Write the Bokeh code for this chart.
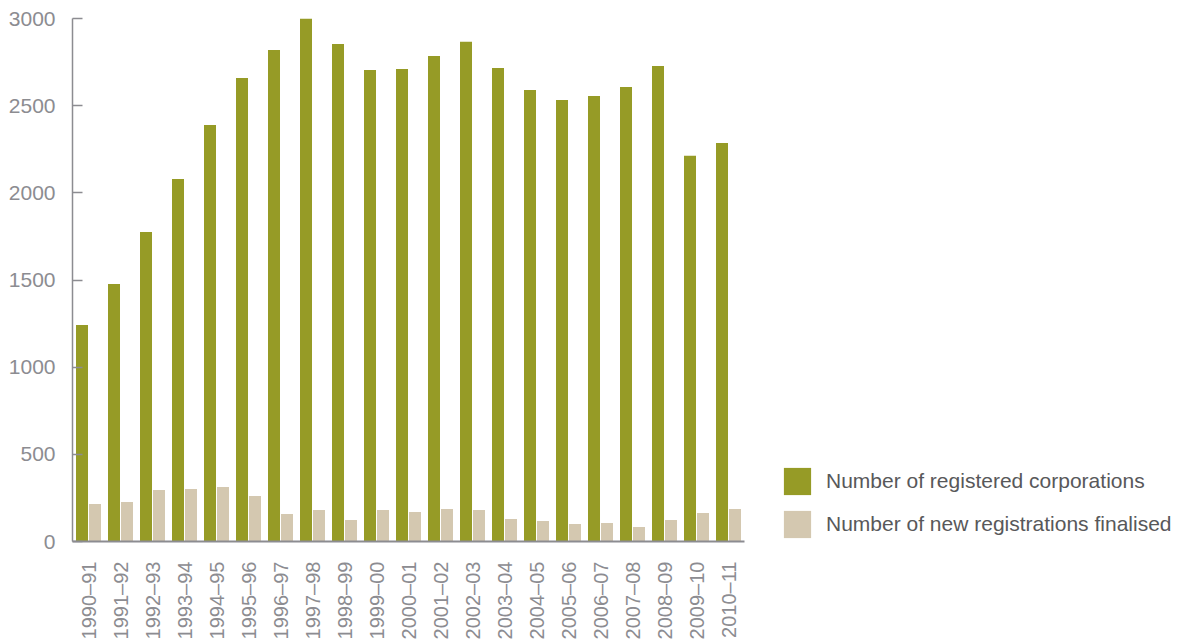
from math import pi
from bokeh.plotting import figure
from bokeh.models import ColumnDataSource, FactorRange, Range1d, FixedTicker, Legend, LegendItem
from bokeh.transform import dodge
from bokeh.embed import file_html
from bokeh.resources import INLINE

years = ["1990–91", "1991–92", "1992–93", "1993–94", "1994–95", "1995–96", "1996–97",
         "1997–98", "1998–99", "1999–00", "2000–01", "2001–02", "2002–03", "2003–04",
         "2004–05", "2005–06", "2006–07", "2007–08", "2008–09", "2009–10", "2010–11"]
registered = [1242, 1477, 1776, 2080, 2389, 2659, 2820, 3000, 2854, 2705, 2711,
              2785, 2866, 2716, 2590, 2533, 2556, 2607, 2728, 2212, 2286]
new_regs = [215, 227, 295, 301, 313, 261, 158, 181, 123, 181, 169,
            186, 181, 129, 118, 100, 106, 83, 123, 164, 186]
y_ticks = [0, 500, 1000, 1500, 2000, 2500, 3000]
series_names = ["Number of registered corporations", "Number of new registrations finalised"]

GREEN = "#969b26"
BEIGE = "#d4c8b0"
GREY = "#8c8c91"
FONT = "Liberation Sans"

src = ColumnDataSource(dict(year=years, reg=registered, new=new_regs))

p = figure(x_range=FactorRange(*years), y_range=Range1d(0, 3000),
           frame_width=672, frame_height=523, output_backend="svg", toolbar_location=None,
           min_border_left=72, min_border_top=18, min_border_bottom=103,
           min_border_right=0, outline_line_color=None)

r1 = p.vbar(x=dodge("year", -0.203, range=p.x_range), top="reg", width=0.375,
            source=src, fill_color=GREEN, line_color=None)
r2 = p.vbar(x=dodge("year", 0.203, range=p.x_range), top="new", width=0.375,
            source=src, fill_color=BEIGE, line_color=None)

p.xgrid.visible = False
p.ygrid.visible = False
p.x_range.range_padding = 0

# y axis
p.yaxis.ticker = FixedTicker(ticks=y_ticks)
p.yaxis.minor_tick_line_color = None
p.yaxis.major_tick_in = 10
p.yaxis.major_tick_out = 0
p.yaxis.major_tick_line_color = GREY
p.yaxis.major_tick_line_width = 1.5
p.yaxis.axis_line_color = GREY
p.yaxis.axis_line_width = 1.5
p.yaxis.major_label_standoff = 17
p.yaxis.major_label_text_font = FONT
p.yaxis.major_label_text_font_size = "21px"
p.yaxis.major_label_text_color = GREY

# x axis
p.xaxis.major_tick_line_color = None
p.xaxis.major_tick_out = 0
p.xaxis.major_tick_in = 0
p.xaxis.axis_line_color = GREY
p.xaxis.axis_line_width = 2
p.xaxis.major_label_orientation = pi / 2
p.xaxis.major_label_standoff = 20
p.xaxis.major_label_text_font = FONT
p.xaxis.major_label_text_font_size = "20px"
p.xaxis.major_label_text_color = GREY

legend = Legend(items=[LegendItem(label=series_names[0], renderers=[r1]),
                       LegendItem(label=series_names[1], renderers=[r2])],
                location=(36, 0), orientation="vertical",
                glyph_width=34, glyph_height=34, label_standoff=12, spacing=9,
                padding=0, margin=0, border_line_color=None,
                background_fill_alpha=0,
                label_text_font=FONT, label_text_font_size="21px",
                label_text_color="#58585a")
p.add_layout(legend, "right")

open("out.html", "w").write(file_html(p, INLINE))
